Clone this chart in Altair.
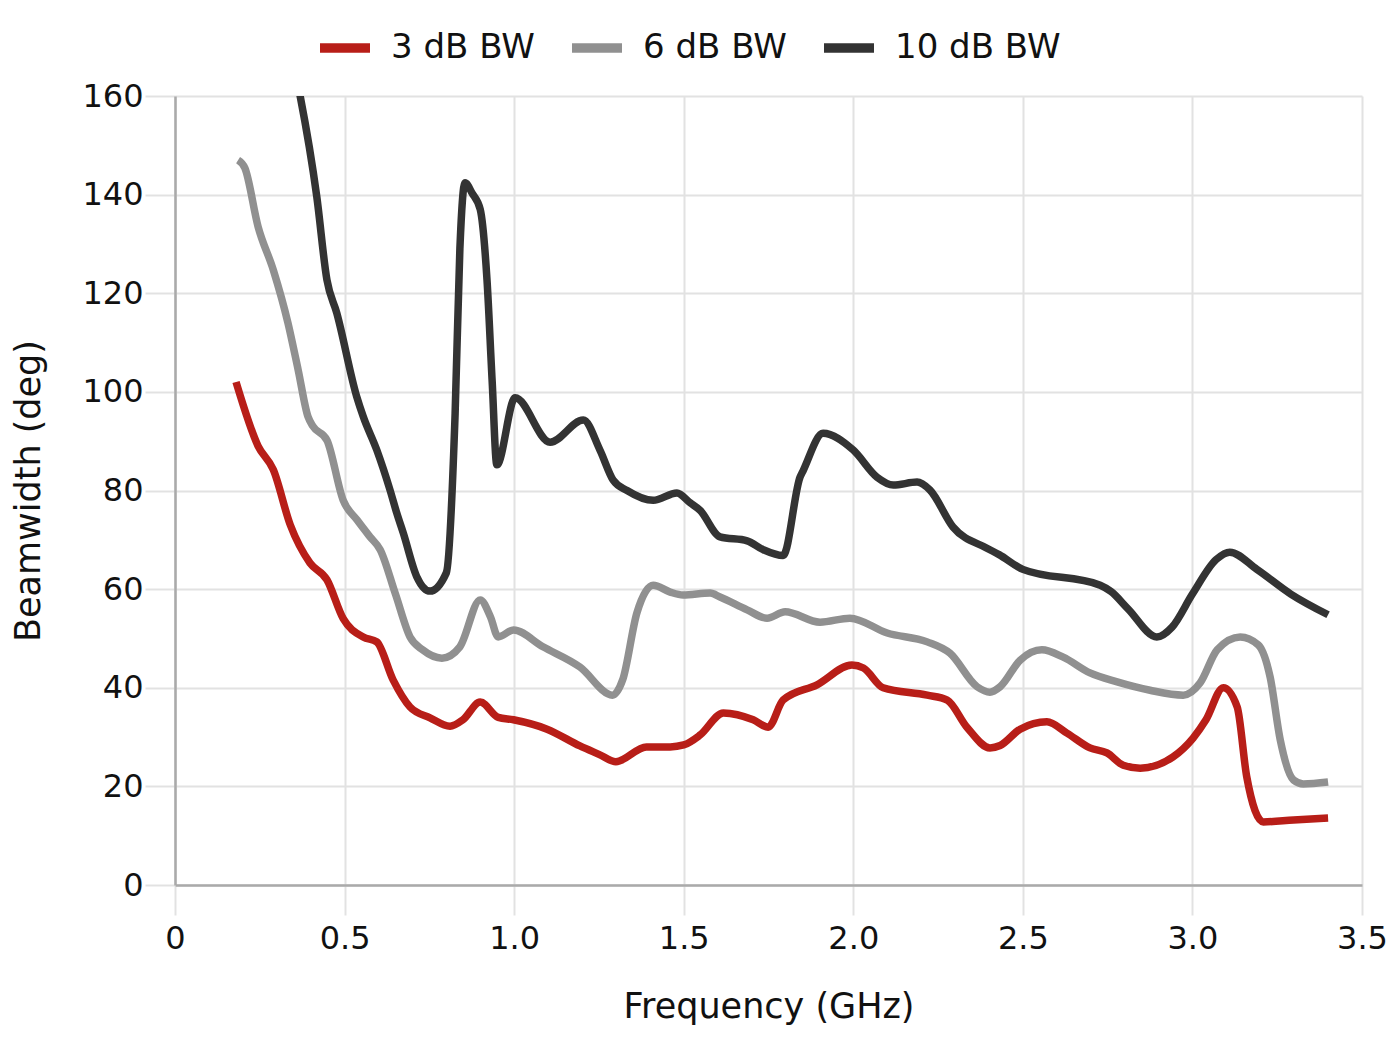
import altair as alt
import pandas as pd

series_names = ["3 dB BW", "6 dB BW", "10 dB BW"]
series_colors = ["#B81E18", "#909090", "#333333"]

freq_3db = [0.18, 0.245, 0.29, 0.34, 0.398, 0.448, 0.496, 0.555, 0.595, 0.643, 0.693,
            0.752, 0.811, 0.849, 0.90, 0.953, 0.998, 1.097, 1.194, 1.25, 1.30, 1.39,
            1.46, 1.50, 1.548, 1.617, 1.705, 1.749, 1.793, 1.893, 1.996, 2.03, 2.088,
            2.218, 2.277, 2.335, 2.403, 2.433, 2.492, 2.571, 2.63, 2.698, 2.748, 2.796,
            2.846, 2.943, 3.002, 3.04, 3.091, 3.132, 3.16, 3.209, 3.298, 3.40]
bw_3db = [102, 89, 84.2, 73, 65.3, 61.9, 54, 50.3, 49.3, 41.6, 36.1,
          33.9, 32.2, 33.5, 37.1, 34, 33.5, 31.6, 28.2, 26.5, 25, 28,
          28, 28.4, 30.4, 34.9, 33.5, 32, 37.5, 40.6, 44.6, 44, 40,
          38.5, 37.5, 32, 27.8, 28.3, 31.6, 33.1, 30.8, 27.8, 26.8, 24.3,
          23.7, 26, 29.8, 33.5, 40, 36.1, 22, 12.8, 13.2, 13.6]

freq_6db = [0.186, 0.206, 0.245, 0.29, 0.333, 0.363, 0.392, 0.407, 0.448, 0.496, 0.537,
            0.575, 0.605, 0.65, 0.693, 0.73, 0.787, 0.84, 0.90, 0.93, 0.953, 0.998,
            1.085, 1.194, 1.29, 1.32, 1.362, 1.41, 1.46, 1.498, 1.578, 1.607, 1.687,
            1.746, 1.799, 1.902, 1.99, 2.10, 2.218, 2.285, 2.365, 2.403, 2.433, 2.492,
            2.556, 2.619, 2.698, 2.778, 2.875, 2.973, 3.023, 3.073, 3.141, 3.194, 3.229,
            3.259, 3.298, 3.327, 3.40]
bw_6db = [147, 145.4, 133.5, 124.7, 114, 104.5, 95, 93, 90.2, 78, 74,
          70.6, 68, 59, 50.3, 47.7, 46, 48.3, 57.8, 54.4, 50.3, 51.7,
          48.3, 44.2, 38.5, 41.6, 55.2, 60.8, 59.4, 58.8, 59.2, 58.4, 55.8,
          54.1, 55.4, 53.3, 54.1, 51.1, 49.3, 47, 40.2, 39.1, 40.2, 45.6,
          47.7, 46.2, 43, 41.2, 39.5, 38.5, 41, 47.7, 50.3, 48.7, 42.2,
          29.4, 21.3, 20.5, 20.9]

freq_10db = [0.33, 0.369, 0.418, 0.448, 0.477, 0.536, 0.555, 0.595, 0.634, 0.654, 0.673,
             0.713, 0.752, 0.80, 0.826, 0.84, 0.855, 0.876, 0.90, 0.92, 0.935, 0.949,
             1.003, 1.106, 1.204, 1.253, 1.292, 1.333, 1.41, 1.48, 1.519, 1.548, 1.607,
             1.687, 1.734, 1.793, 1.843, 1.852, 1.911, 2.0, 2.07, 2.118, 2.188, 2.226,
             2.294, 2.394, 2.43, 2.50, 2.728, 2.76, 2.81, 2.895, 2.94, 3.0, 3.07,
             3.11, 3.19, 3.29, 3.40]
bw_10db = [172, 160, 139.6, 122.7, 116, 99, 95, 88.2, 80.1, 75.4, 71.4,
           62.5, 59.6, 63.3, 95.7, 129, 142.4, 140.3, 137, 122.7, 102.4, 85.2,
           98.8, 89.8, 94.3, 88.2, 82.1, 80, 78, 79.5, 77.5, 76, 70.6,
           69.8, 68, 66.8, 82.7, 84, 91.6, 88.2, 82.7, 81.1, 81.7, 80.1,
           72.6, 68.3, 67, 64, 60.8, 59.5, 56, 50.3, 52.3, 59, 66,
           67.5, 64, 59, 54.8]

x_ticks = [0, 0.5, 1.0, 1.5, 2.0, 2.5, 3.0, 3.5]
y_ticks = [0, 20, 40, 60, 80, 100, 120, 140, 160]

rows = []
for name, fs, vs in zip(series_names, [freq_3db, freq_6db, freq_10db], [bw_3db, bw_6db, bw_10db]):
    for f, v in zip(fs, vs):
        rows.append({"series": name, "freq": f, "bw": v})
df = pd.DataFrame(rows)

FONT = "DejaVu Sans"

chart = alt.Chart(df).mark_line(strokeWidth=7.5, interpolate="monotone", clip=True).encode(
    x=alt.X("freq:Q",
            scale=alt.Scale(domain=[0, 3.5], nice=False, zero=False),
            axis=alt.Axis(values=x_ticks, title="Frequency (GHz)",
                          labelExpr="datum.value == 0 ? '0' : format(datum.value, '.1f')",
                          labelFlush=False, labelPadding=8, titlePadding=35)),
    y=alt.Y("bw:Q",
            scale=alt.Scale(domain=[0, 160], nice=False),
            axis=alt.Axis(values=y_ticks, title="Beamwidth (deg)",
                          labelFlush=False, labelPadding=2, titlePadding=35)),
    color=alt.Color("series:N",
                    scale=alt.Scale(domain=series_names, range=series_colors),
                    sort=series_names,
                    legend=alt.Legend(title=None, orient="none", legendX=140, legendY=-78,
                                      direction="horizontal", symbolType="stroke",
                                      symbolSize=2500, symbolStrokeWidth=9.5,
                                      labelFontSize=34, labelFont=FONT, labelColor="#111111",
                                      labelLimit=400, labelOffset=16, columnPadding=18)),
    detail="series:N",
).properties(
    width=1187,
    height=789,
    autosize=alt.AutoSizeParams(type="none"),
    padding={"left": 167, "top": 88, "right": 25, "bottom": 150},
).configure_view(
    stroke=None
).configure_axis(
    grid=True,
    gridColor="#e2e2e2",
    gridWidth=2,
    domainColor="#aaaaaa",
    domainWidth=2.5,
    tickColor="#e2e2e2",
    tickWidth=2,
    tickSize=30,
    labelFont=FONT,
    labelFontSize=32,
    labelColor="#111111",
    titleFont=FONT,
    titleFontSize=35,
    titleFontWeight="normal",
    titleColor="#111111",
)

chart.save("out.html", embed_options={"renderer": "svg", "actions": False})
